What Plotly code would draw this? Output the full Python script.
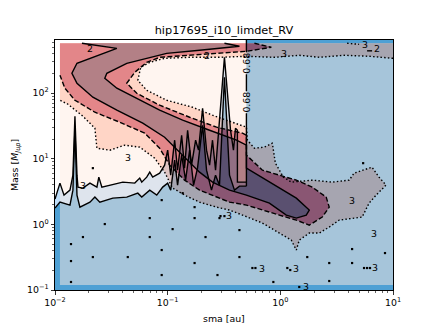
import plotly.graph_objects as go

# ---------------- values (log10 sma [au], log10 mass [Mjup]) ----------------
# RV detection-limit map: upper (white / pale) and lower (pale / blue) contour lines, left of 0.5 au
rv_upper_log_sma = [-2.000, -1.956, -1.920, -1.867, -1.841, -1.823, -1.805, -1.796, -1.752, -1.690,
                    -1.628, -1.611, -1.584, -1.513, -1.398, -1.292, -1.248, -1.230, -1.186, -1.159,
                    -1.133, -1.071, -1.027, -1.000, -0.973, -0.938, -0.912, -0.876, -0.850, -0.823,
                    -0.788, -0.752, -0.726, -0.690, -0.655, -0.628, -0.602, -0.575, -0.549, -0.496,
                    -0.442, -0.416, -0.398, -0.381, -0.381, -0.301]
rv_upper_log_mass = [0.385, 0.629, 0.446, 0.522, 0.750, 1.648, 0.750, 0.568, 0.553, 0.629,
                     0.568, 0.720, 0.568, 0.598, 0.644, 0.629, 0.705, 0.644, 0.720, 0.796,
                     0.720, 0.781, 0.903, 1.131, 0.750, 1.283, 0.826, 1.359, 0.857, 1.435,
                     0.903, 1.283, 1.131, 1.770, 1.131, 0.903, 1.283, 0.826, 1.435, 2.546,
                     1.435, 1.131, 1.466, 1.435, 0.644, 0.644]
rv_lower_log_sma = [-2.000, -1.956, -1.867, -1.841, -1.823, -1.805, -1.779, -1.690, -1.646, -1.602,
                    -1.487, -1.363, -1.265, -1.230, -1.159, -1.097, -1.044, -1.000, -0.973, -0.938,
                    -0.912, -0.876, -0.841, -0.805, -0.770, -0.735, -0.690, -0.655, -0.611, -0.575,
                    -0.540, -0.496, -0.451, -0.407, -0.363, -0.301]
rv_lower_log_mass = [0.248, 0.339, 0.294, 0.522, 1.466, 0.446, 0.263, 0.339, 0.416, 0.339,
                     0.400, 0.416, 0.476, 0.416, 0.522, 0.446, 0.568, 0.629, 0.522, 0.979,
                     0.598, 1.055, 0.674, 1.131, 0.598, 0.857, 1.511, 0.826, 0.522, 0.750,
                     0.598, 2.242, 0.750, 0.522, 0.583, 0.583]
rv_edge_log_sma = -0.301                      # 0.5 au vertical contour (label 0.68)
rv_edge_segments_log_mass = [[2.85, 2.623], [2.288, 2.029], [1.694, 0.583]]
rv_edge_label_log_mass = [2.455, 1.862]
rv_edge_label = "0.68"

# sigma map: level 3 (dotted), level 2 (dashed), level 1 (solid) contours
sig3_log_sma = [1.000, 0.788, 0.566, 0.345, 0.168, -0.053, -0.301, -0.540, -0.805, -1.027,
                -1.159, -1.239, -1.265, -1.186, -1.009, -0.779, -0.602, -0.425, -0.301, -0.292,
                -0.230, -0.142, -0.071, -0.044, 0.027, 0.097, 0.283, 0.460, 0.611, 0.655,
                0.814, 0.876, 0.938, 0.850, 0.788, 0.726, 0.522, 0.434, 0.345, 0.257,
                0.168, 0.142, 0.097, -0.009, -0.159, -0.336, -0.451, -0.566, -0.717, -0.832,
                -0.956, -1.027, -1.115, -1.248, -1.381, -1.513, -1.628, -1.646, -1.752, -1.885,
                -1.956]
sig3_log_mass = [2.531, 2.562, 2.577, 2.546, 2.577, 2.546, 2.562, 2.546, 2.546, 2.531,
                 2.470, 2.394, 2.196, 2.044, 1.892, 1.785, 1.664, 1.557, 1.481, 1.283,
                 1.161, 1.177, 1.237, 0.933, 0.720, 0.644, 0.674, 0.644, 0.674, 0.781,
                 0.872, 0.720, 0.598, 0.446, 0.324, 0.111, 0.065, -0.041, -0.132, -0.132,
                 -0.239, -0.391, -0.239, -0.132, 0.020, 0.142, 0.218, 0.263, 0.339, 0.431,
                 0.553, 0.796, 1.009, 1.177, 1.207, 1.131, 1.161, 1.466, 1.648, 1.831,
                 1.892]
sig2_log_sma = [-0.230, -0.080, -0.301, -0.540, -0.805, -1.071, -1.186, -1.292, -1.363, -1.274,
                -1.071, -0.805, -0.566, -0.336, -0.301, -0.301, -0.159, -0.009, 0.142, 0.283,
                0.407, 0.434, 0.372, 0.257, 0.142, -0.009, -0.159, -0.301, -0.451, -0.584,
                -0.717, -0.850, -0.982, -1.071, -1.204, -1.425, -1.646, -1.823, -1.912, -1.956]
sig2_log_mass = [2.760, 2.699, 2.638, 2.607, 2.577, 2.546, 2.470, 2.318, 2.151, 1.998,
                 1.816, 1.633, 1.481, 1.390, 1.359, 1.055, 0.826, 0.750, 0.674, 0.568,
                 0.416, 0.263, 0.111, -0.011, 0.065, 0.142, 0.218, 0.294, 0.339, 0.431,
                 0.522, 0.674, 0.903, 1.161, 1.390, 1.557, 1.709, 1.892, 2.075, 2.272]
sig1_log_sma = [-1.761, -1.451, -1.805, -1.850, -1.805, -1.664, -1.451, -1.221, -1.027, -0.850,
                -0.717, -0.602, -0.451, -0.301, -0.097, 0.053, 0.142, 0.230, 0.257, 0.142,
                -0.009, -0.159, -0.301, -0.301, -0.389, -0.628, -0.867, -1.071, -1.274, -1.451,
                -1.558, -1.540, -1.363, -1.009, -0.717, -0.363, -0.496]
sig1_log_mass = [2.760, 2.683, 2.455, 2.303, 2.151, 1.938, 1.740, 1.542, 1.329, 1.024,
                 0.796, 0.644, 0.522, 0.446, 0.324, 0.142, 0.096, 0.142, 0.218, 0.400,
                 0.553, 0.705, 0.857, 1.207, 1.283, 1.435, 1.588, 1.740, 1.922, 2.075,
                 2.227, 2.303, 2.455, 2.607, 2.653, 2.714, 2.760]
# small contour fragments at the top right
frag3_log_sma = [0.593, 0.699]
frag3_log_mass = [2.760, 2.744]
frag2_log_sma = [0.770, 0.823]
frag2_log_mass = [2.645, 2.645]

# tiny isolated contour islands (dots)
island_log_sma = [-1.664, -1.558, -1.159, -1.053, -0.867, -0.761, -0.761, -0.956, -0.664, -0.540,
                  -0.363, -0.363, -0.558, -1.053, -1.159, -1.354, -1.664, -1.752, -1.858, -1.858,
                  -1.858, -1.053, -0.761, -0.062, 0.239, 0.434, 0.434, 0.637, 0.637, 0.929,
                  0.735, -0.248, -0.221, 0.062, 0.088, 0.743, 0.770, 0.796, 0.168, -0.531, -0.496]
island_log_mass = [0.857, 0.005, 0.096, 0.370, 0.476, 0.263, 0.096, -0.072, -0.193, 0.096,
                   -0.087, -0.498, -0.772, -0.391, -0.193, -0.498, -0.498, -0.193, -0.300, -0.559,
                   -0.878, -0.772, -0.589, -0.878, -0.498, -0.589, -0.863, -0.376, -0.589, -0.437,
                   0.933, -0.665, -0.665, -0.665, -0.696, -0.665, -0.665, -0.665, -0.954, 0.126, 0.126]

# contour labels
label_text = ["2", "2", "3", "3", "2", "3", "3", "3", "3", "3", "3", "3", "3", "3"]
label_log_sma = [-1.690, -0.655, 0.035, 0.752, 0.858, -1.354, -1.752, -0.460, 0.637, 0.832,
                 -0.159, 0.142, 0.841, 0.230]
label_log_mass = [2.683, 2.577, 2.607, 2.744, 2.683, 1.024, 0.598, 0.142, 0.370, -0.132,
                  -0.665, -0.665, -0.650, -0.954]

x_tick_vals = [0.01, 0.1, 1, 10]
x_tick_text = ["10<sup>−2</sup>", "10<sup>−1</sup>", "10<sup>0</sup>", "10<sup>1</sup>"]
y_tick_vals = [0.1, 1, 10, 100]
y_tick_text = ["10<sup>−1</sup>", "10<sup>0</sup>", "10<sup>1</sup>", "10<sup>2</sup>"]

# ---------------- layout constants ----------------
X_MIN, X_MAX = -2.0, 1.0
Y_MIN, Y_MAX = -1.0, 2.81
GX0, GY0, GY1 = -1.956, -0.924, 2.760      # extent of the sigma map grid
PAD = 0.06

B_DARK = (78, 160, 212)
B_PALE = (190, 222, 250)
WHITE = (255, 255, 255)
R_LOW = (255, 235, 225)
R_MID = (255, 171, 141)
R_HI = (198, 12, 18)
R_TOP = (103, 0, 13)


def lin(v):
    return [10 ** a for a in v]


def rgb(c, a=1.0):
    return f"rgba({c[0]},{c[1]},{c[2]},{a})"


fig = go.Figure()


def poly(lx, ly, color):
    fig.add_trace(go.Scatter(x=lin(lx), y=lin(ly), mode="lines", fill="toself",
                             fillcolor=color, line=dict(width=0), hoverinfo="skip",
                             showlegend=False))


def line(lx, ly, dash=None, width=1.4):
    fig.add_trace(go.Scatter(x=lin(lx), y=lin(ly), mode="lines",
                             line=dict(color="black", width=width, dash=dash),
                             hoverinfo="skip", showlegend=False))


# blue-map regions
U, UM = rv_upper_log_sma, rv_upper_log_mass
L, LM = rv_lower_log_sma, rv_lower_log_mass
white_x = [X_MIN - PAD] + U + [rv_edge_log_sma, X_MIN - PAD]
white_y = [UM[0]] + UM + [Y_MAX + PAD, Y_MAX + PAD]
pale_x = [X_MIN - PAD] + U + L[::-1] + [X_MIN - PAD]
pale_y = [UM[0]] + UM + LM[::-1] + [LM[0]]
blue_x = L + [rv_edge_log_sma, X_MAX + PAD, X_MAX + PAD, X_MIN - PAD, X_MIN - PAD]
blue_y = LM + [Y_MAX + PAD, Y_MAX + PAD, Y_MIN - PAD, Y_MIN - PAD, LM[0]]

# 1) blue map opaque (shows alone at the edges of the grid)
poly(pale_x, pale_y, rgb(B_PALE))
poly(blue_x, blue_y, rgb(B_DARK))

# 2) sigma map (opaque, nested)
poly([GX0, X_MAX + PAD, X_MAX + PAD, GX0], [GY0, GY0, GY1, GY1], rgb(R_LOW))
poly(sig3_log_sma + [GX0, X_MAX], sig3_log_mass + [GY1, GY1], rgb(R_MID))
poly(sig2_log_sma + [GX0], sig2_log_mass + [GY1], rgb(R_HI))
poly(sig1_log_sma, sig1_log_mass, rgb(R_TOP))

# 3) blue map again at half opacity -> 50/50 blend
poly(white_x, white_y, rgb(WHITE, 0.5))
poly(pale_x, pale_y, rgb(B_PALE, 0.5))
poly(blue_x, blue_y, rgb(B_DARK, 0.5))

# 4) contour lines
line(sig3_log_sma, sig3_log_mass, dash="1.5px,2.2px")
line(sig2_log_sma, sig2_log_mass, dash="5px,2.3px")
line(sig1_log_sma, sig1_log_mass)
line(frag3_log_sma, frag3_log_mass, dash="1.5px,2.2px")
line(frag2_log_sma, frag2_log_mass, dash="5px,2.3px")
line(U, UM)
line(L, LM)
for seg in rv_edge_segments_log_mass:
    line([rv_edge_log_sma, rv_edge_log_sma], seg)

# 5) islands
fig.add_trace(go.Scatter(x=lin(island_log_sma), y=lin(island_log_mass), mode="markers",
                         marker=dict(symbol="square", size=2.2, color="black", line=dict(width=0)),
                         hoverinfo="skip", showlegend=False))

FONT = "DejaVu Sans"
ann = []
for t, xs, ys in zip(label_text, label_log_sma, label_log_mass):
    ann.append(dict(x=xs, y=ys, xref="x", yref="y", text=t, showarrow=False,
                    font=dict(family=FONT, size=9.4, color="black")))
for ys in rv_edge_label_log_mass:
    ann.append(dict(x=rv_edge_log_sma, y=ys, xref="x", yref="y", text=rv_edge_label,
                    showarrow=False, textangle=-90,
                    font=dict(family=FONT, size=9.4, color="black")))
ann.append(dict(x=0.5, y=-0.112, xref="paper", yref="paper", text="sma [au]",
                showarrow=False, yanchor="middle",
                font=dict(family=FONT, size=9.4, color="black")))
ann.append(dict(x=-0.118, y=0.5, xref="paper", yref="paper",
                text="Mass [<i>M</i><sub><i>Jup</i></sub>]", textangle=-90,
                showarrow=False, xanchor="center",
                font=dict(family=FONT, size=9.4, color="black")))

x_minor = [k * 10 ** d for d in (-2, -1, 0) for k in range(2, 10)]
y_minor = [k * 10 ** d for d in (-1, 0, 1, 2) for k in range(2, 10) if k * 10 ** d < 640]

axis_common = dict(type="log", showgrid=False, zeroline=False, showline=True,
                   linecolor="black", linewidth=1, mirror=True, ticks="outside",
                   ticklen=3.5, tickwidth=0.8, tickcolor="black", automargin=False,
                   tickfont=dict(family=FONT, size=9.4, color="black"))

fig.update_layout(
    width=436, height=327, autosize=False,
    margin=dict(l=55, r=43, t=40, b=37, pad=0),
    paper_bgcolor="white", plot_bgcolor="white",
    font=dict(family=FONT, color="black"),
    title=dict(text="hip17695_i10_limdet_RV", x=0.5, xref="paper", xanchor="center",
               y=1 - 30 / 327, yref="container", yanchor="middle", automargin=False,
               font=dict(family=FONT, size=11.3, color="black")),
    xaxis=dict(range=[X_MIN, X_MAX], tickvals=x_tick_vals, ticktext=x_tick_text,
               minor=dict(ticks="outside", ticklen=2, tickwidth=0.6, tickcolor="black",
                          tickvals=x_minor, showgrid=False),
               **axis_common),
    yaxis=dict(range=[Y_MIN, Y_MAX], tickvals=y_tick_vals, ticktext=y_tick_text,
               minor=dict(ticks="outside", ticklen=2, tickwidth=0.6, tickcolor="black",
                          tickvals=y_minor, showgrid=False),
               **axis_common),
    annotations=ann,
    showlegend=False,
)

fig.write_html("out.html", config={"displayModeBar": False, "staticPlot": True},
               post_script="document.body.style.margin='0px';document.body.style.overflow='hidden';")
